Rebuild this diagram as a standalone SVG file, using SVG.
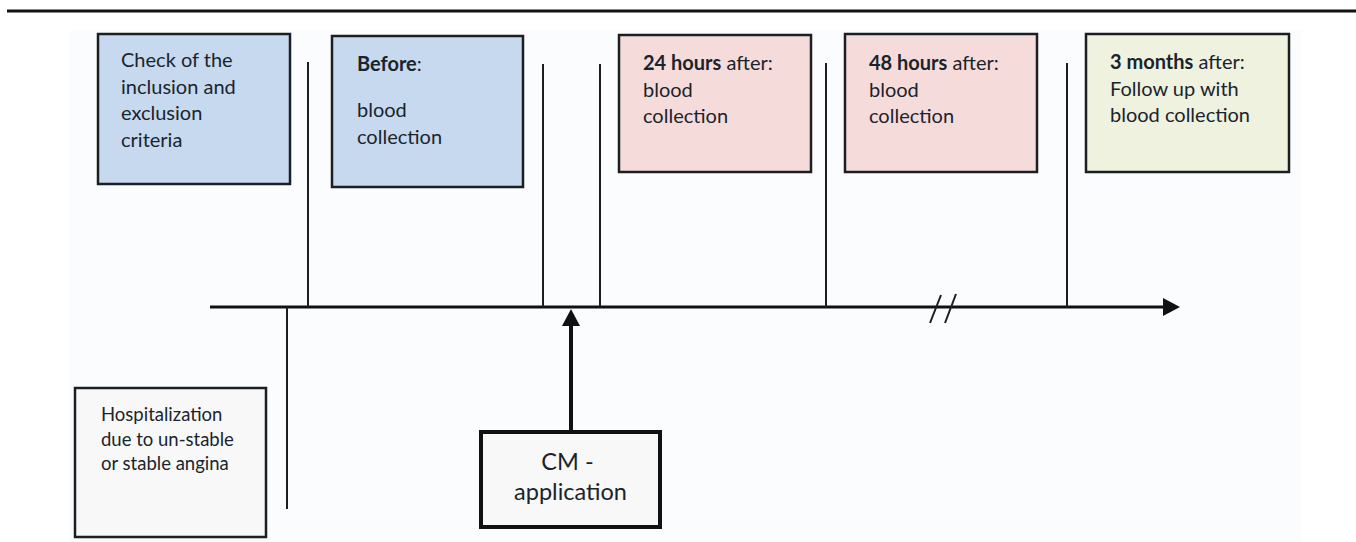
<svg xmlns="http://www.w3.org/2000/svg" width="1356" height="542" viewBox="0 0 1356 542">
  <style>
    .txt { font-family: "Lato", "Liberation Sans", sans-serif; fill: #1a242c; }
    .t22 { font-size: 20px; }
    .t20 { font-size: 18.5px; }
    .t25 { font-size: 23.5px; }
    .b { font-weight: bold; }
    .box { stroke: #1b1f22; stroke-width: 2.5; }
    .blue { fill: #c6d9ef; }
    .pink { fill: #f6dbdb; }
    .green { fill: #eef2df; }
    .grey { fill: #f9f8f8; }
    .tick { stroke: #1b1f22; stroke-width: 2; fill: none; }
    .axis { stroke: #111; stroke-width: 3; fill: none; }
  </style>
  <defs>
    <marker id="arrow" markerUnits="userSpaceOnUse" viewBox="0 0 17 18" refX="0" refY="9" markerWidth="17" markerHeight="18" orient="auto">
      <path d="M0,0 L17,9 L0,18 z" fill="#111"/>
    </marker>
  </defs>

  <rect x="0" y="0" width="1356" height="542" fill="#ffffff"/>
  <!-- header rule -->
  <line x1="7" y1="11" x2="1356" y2="11" stroke="#111" stroke-width="3"/>
  <!-- light panel behind the timeline -->
  <rect x="70" y="30" width="1232" height="512" fill="#fbfcfe"/>

  <g id="connectors">
    <line class="axis" x1="210" y1="307" x2="1163" y2="307" marker-end="url(#arrow)"/>
    <line class="tick" x1="308" y1="62" x2="308" y2="307"/>
    <line class="tick" x1="543" y1="64" x2="543" y2="307"/>
    <line class="tick" x1="600" y1="64" x2="600" y2="307"/>
    <line class="tick" x1="826" y1="63" x2="826" y2="307"/>
    <line class="tick" x1="1067" y1="63" x2="1067" y2="307"/>
    <line class="tick" x1="287" y1="307" x2="287" y2="509"/>
    <!-- time break -->
    <line class="tick" x1="930" y1="323" x2="941" y2="295"/>
    <line class="tick" x1="945" y1="323" x2="956" y2="294"/>
    <!-- CM application arrow -->
    <line stroke="#111" stroke-width="4" x1="571" y1="432" x2="571" y2="326" marker-end="url(#arrow)"/>
  </g>

  <g id="criteria">
    <rect class="box blue" x="98" y="34" width="192" height="150"/>
    <text class="txt t22" x="121">
      <tspan x="121" y="67">Check of the</tspan>
      <tspan x="121" y="93.5">inclusion and</tspan>
      <tspan x="121" y="120">exclusion</tspan>
      <tspan x="121" y="146.5">criteria</tspan>
    </text>
  </g>

  <g id="before">
    <rect class="box blue" x="332" y="36" width="191" height="151"/>
    <text class="txt t22">
      <tspan x="357" y="71"><tspan class="b">Before</tspan>:</tspan>
      <tspan x="357" y="117">blood</tspan>
      <tspan x="357" y="143.5">collection</tspan>
    </text>
  </g>

  <g id="after24">
    <rect class="box pink" x="619" y="35" width="192" height="137"/>
    <text class="txt t22">
      <tspan x="643" y="70"><tspan class="b">24 hours</tspan> after:</tspan>
      <tspan x="643" y="96.5">blood</tspan>
      <tspan x="643" y="123">collection</tspan>
    </text>
  </g>

  <g id="after48">
    <rect class="box pink" x="845" y="34" width="192" height="138"/>
    <text class="txt t22">
      <tspan x="869" y="70"><tspan class="b">48 hours</tspan> after:</tspan>
      <tspan x="869" y="96.5">blood</tspan>
      <tspan x="869" y="123">collection</tspan>
    </text>
  </g>

  <g id="after3m">
    <rect class="box green" x="1086" y="34" width="203" height="138"/>
    <text class="txt t22">
      <tspan x="1110" y="69"><tspan class="b">3 months</tspan> after:</tspan>
      <tspan x="1110" y="95.5">Follow up with</tspan>
      <tspan x="1110" y="122">blood collection</tspan>
    </text>
  </g>

  <g id="hospitalization">
    <rect class="box grey" x="75" y="388" width="191" height="149"/>
    <text class="txt t20">
      <tspan x="101" y="421">Hospitalization</tspan>
      <tspan x="101" y="445.5">due to un-stable</tspan>
      <tspan x="101" y="470">or stable angina</tspan>
    </text>
  </g>

  <g id="cm-application">
    <rect x="481" y="432" width="179" height="95" fill="#f8f8f8" stroke="#111" stroke-width="4"/>
    <text class="txt t25" text-anchor="middle">
      <tspan x="570.5" y="470">CM -</tspan>
      <tspan x="570.5" y="500">application</tspan>
    </text>
  </g>
</svg>
